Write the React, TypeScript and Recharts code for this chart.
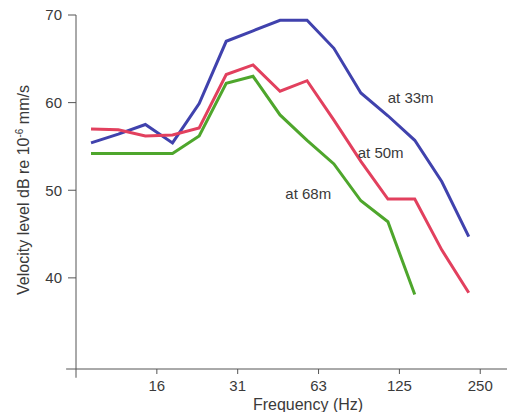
import { LineChart, Line, XAxis, YAxis, ReferenceDot, ReferenceLine, Label } from "recharts";

// third-octave band centres as plotted (Hz)
const FREQS = [9.1, 11.5, 14.5, 18.3, 23, 29, 36.5, 46, 58, 73, 92, 116, 146, 184, 232];

const AT_33M = [55.4, 56.4, 57.5, 55.4, 59.9, 67.0, 68.2, 69.4, 69.4, 66.2, 61.1, 58.5, 55.7, 51.0, 44.7];
const AT_50M = [57.0, 56.9, 56.2, 56.3, 57.1, 63.2, 64.3, 61.3, 62.5, 58.0, 53.3, 49.0, 49.0, 43.2, 38.3];
const AT_68M = [54.2, 54.2, 54.2, 54.2, 56.2, 62.2, 63.0, 58.6, 55.7, 53.0, 48.8, 46.4, 38.1, null, null];

const X_TICKS = [16, 32, 64, 128, 256];
const X_TICK_LABELS = ["16", "31", "63", "125", "250"];
const Y_TICKS = [40, 50, 60, 70];

// where the curve names sit (freq, dB)
const NOTES = [
  { text: "at 33m", f: 141, db: 60.6 },
  { text: "at 50m", f: 109, db: 54.3 },
  { text: "at 68m", f: 58.6, db: 49.6 },
];

const rows = FREQS.map((f, i) => ({
  freq: f,
  d33: AT_33M[i],
  d50: AT_50M[i],
  d68: AT_68M[i],
}));

const FONT = "'Liberation Sans', Arial, sans-serif";
const INK = "#3a3a3a";
const AXIS = "#555";

export default function App() {
  return (
    <div style={{ position: "absolute", left: 0, top: 0, background: "#fff" }}>
      <LineChart
        width={515}
        height={412}
        data={rows}
        margin={{ top: 15, right: 8, bottom: 0, left: 0 }}
        style={{ fontFamily: FONT }}
      >
        <XAxis
          dataKey="freq"
          type="number"
          scale="log"
          domain={[8, 322]}
          allowDataOverflow
          ticks={X_TICKS}
          tickFormatter={(v: number) => X_TICK_LABELS[X_TICKS.indexOf(v)] ?? ""}
          height={43}
          tickSize={5}
          tickMargin={6}
          stroke={AXIS}
          tick={{ fill: INK, fontSize: 15 }}
        >
          <Label
            content={() => (
              <text x={308} y={410} textAnchor="middle" fill={INK} fontSize={16}>
                Frequency (Hz)
              </text>
            )}
          />
        </XAxis>
        <YAxis
          type="number"
          domain={[29.6, 70]}
          ticks={Y_TICKS}
          width={76}
          tickSize={8}
          tickMargin={6}
          stroke={AXIS}
          tick={{ fill: INK, fontSize: 15 }}
        >
          <Label
            content={() => (
              <text
                x={29}
                y={190}
                textAnchor="middle"
                fill={INK}
                fontSize={16}
                transform="rotate(-90 29 190)"
              >
                Velocity level dB re 10
                <tspan dy={-6} fontSize={10}>
                  -6
                </tspan>
                <tspan dy={6}> mm/s</tspan>
              </text>
            )}
          />
        </YAxis>
        {/* axis overhangs past the corner */}
        <ReferenceLine
          segment={[{ x: 7.35, y: 29.6 }, { x: 8, y: 29.6 }]}
          stroke={AXIS}
          ifOverflow="visible"
        />
        <ReferenceLine
          segment={[{ x: 8, y: 28.6 }, { x: 8, y: 29.6 }]}
          stroke={AXIS}
          ifOverflow="visible"
        />
        <Line dataKey="d33" stroke="#4042ad" strokeWidth={3} dot={false} isAnimationActive={false} />
        <Line dataKey="d50" stroke="#e2405e" strokeWidth={3} dot={false} isAnimationActive={false} />
        <Line dataKey="d68" stroke="#4ea62c" strokeWidth={3} dot={false} isAnimationActive={false} />
        {NOTES.map((n) => (
          <ReferenceDot
            key={n.text}
            x={n.f}
            y={n.db}
            r={0}
            fill="none"
            stroke="none"
            label={{ value: n.text, position: "center", fill: INK, fontSize: 15 }}
          />
        ))}
      </LineChart>
    </div>
  );
}
